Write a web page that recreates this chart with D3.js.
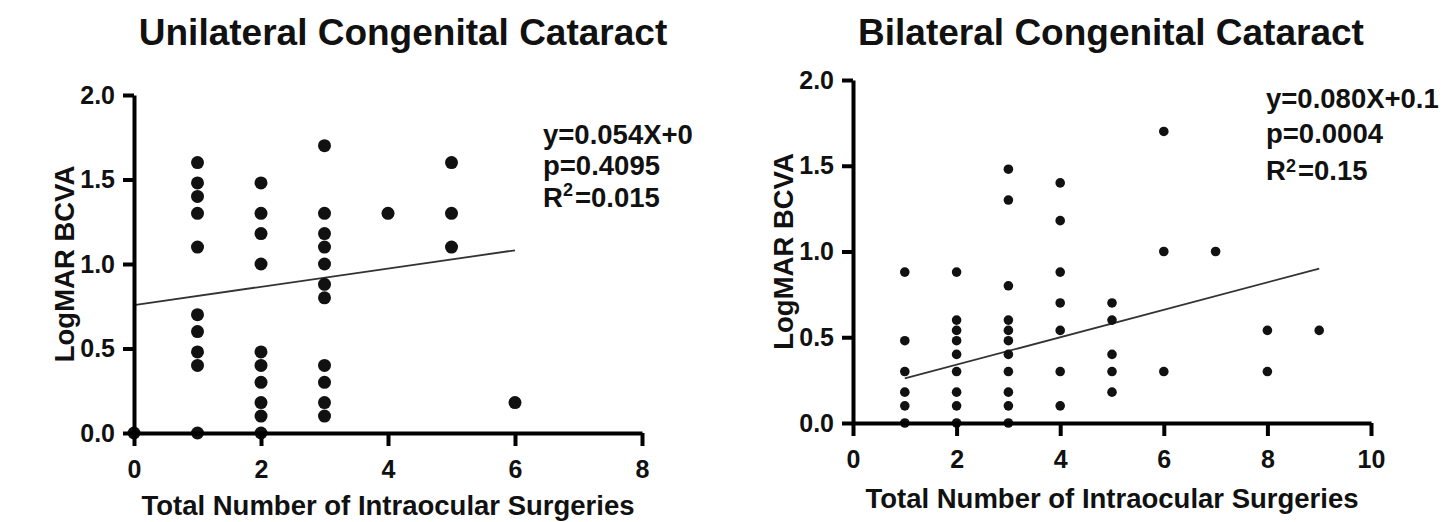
<!DOCTYPE html>
<html>
<head>
<meta charset="utf-8">
<script src="https://cdn.jsdelivr.net/npm/d3@7"></script>
<style>
  body { margin: 0; background: #fff; }
  svg text { font-family: "Liberation Sans", Arial, sans-serif; font-weight: bold; fill: #111; }
</style>
</head>
<body>
<div id="container"></div>
<script>
// Unilateral: surgeries on x, LogMAR BCVA values per x column
var uniSurgeries = [0, 1, 2, 3, 4, 5, 6];
var uniBcva = [
    [0],
    [1.6, 1.48, 1.4, 1.3, 1.1, 0.7, 0.6, 0.48, 0.4, 0],
    [1.48, 1.3, 1.18, 1.0, 0.48, 0.4, 0.3, 0.18, 0.1, 0],
    [1.7, 1.3, 1.18, 1.1, 1.0, 0.88, 0.8, 0.4, 0.3, 0.18, 0.1],
    [1.3],
    [1.6, 1.3, 1.1],
    [0.18]
];
var uniFit = { slope: 0.054, intercept: 0.757, from: 0, to: 6 };
var uniText = ["y=0.054X+0", "p=0.4095", "=0.015"];

// Bilateral
var biSurgeries = [1, 2, 3, 4, 5, 6, 7, 8, 9];
var biBcva = [
    [0.88, 0.48, 0.3, 0.18, 0.1, 0],
    [0.88, 0.6, 0.54, 0.48, 0.4, 0.3, 0.18, 0.1, 0],
    [1.48, 1.3, 0.8, 0.6, 0.54, 0.48, 0.4, 0.3, 0.18, 0.1, 0],
    [1.4, 1.18, 0.88, 0.7, 0.54, 0.3, 0.1],
    [0.7, 0.6, 0.4, 0.3, 0.18],
    [1.7, 1.0, 0.3],
    [1.0],
    [0.54, 0.3],
    [0.54]
];
var biFit = { slope: 0.080, intercept: 0.18, from: 1, to: 9 };
var biText = ["y=0.080X+0.1", "p=0.0004", "=0.15"];

var yTicks = [0, 0.5, 1.0, 1.5, 2.0];

var w = 1446, h = 522;
var svg = d3.select("#container").append("svg")
    .attr("width", w).attr("height", h)
    .style("background", "#fff");

function drawPanel(o) {
    var x = d3.scaleLinear().domain([0, o.xMax]).range([o.left, o.right]);
    var y = d3.scaleLinear().domain([0, 2]).range([o.bottom, o.top]);
    var g = svg.append("g");

    // title
    g.append("text")
        .attr("x", o.titleX).attr("y", 45)
        .attr("text-anchor", "middle")
        .style("font-size", "37px")
        .text(o.title);

    // regression line
    g.append("line")
        .attr("x1", x(o.fit.from)).attr("y1", y(o.fit.intercept + o.fit.slope * o.fit.from))
        .attr("x2", x(o.fit.to)).attr("y2", y(o.fit.intercept + o.fit.slope * o.fit.to))
        .attr("stroke", "#333").attr("stroke-width", 1.8);

    // points
    var pts = [];
    o.xs.forEach(function(xv, i) {
        o.ys[i].forEach(function(yv) { pts.push([xv, yv]); });
    });
    g.selectAll("circle").data(pts).enter().append("circle")
        .attr("cx", function(d) { return x(d[0]); })
        .attr("cy", function(d) { return y(d[1]); })
        .attr("r", o.r)
        .attr("fill", "#111");

    // axes
    var xAxis = g.append("g")
        .attr("transform", "translate(0," + o.bottom + ")")
        .call(d3.axisBottom(x).tickValues(o.xTicks).tickSize(13).tickSizeOuter(0).tickPadding(14).tickFormat(d3.format("d")));
    var yAxis = g.append("g")
        .attr("transform", "translate(" + o.left + ",0)")
        .call(d3.axisLeft(y).tickValues(yTicks).tickSize(11).tickSizeOuter(0).tickPadding(8).tickFormat(d3.format(".1f")));
    [xAxis, yAxis].forEach(function(a) {
        a.selectAll("path, line").attr("stroke", "#000").style("stroke-width", "4px");
        a.selectAll("text").style("font-size", "25px").attr("fill", "#111")
            .style("font-family", "'Liberation Sans', Arial, sans-serif").style("font-weight", "bold");
    });

    // axis titles
    g.append("text")
        .attr("x", (o.left + o.right) / 2).attr("y", o.xTitleY)
        .attr("text-anchor", "middle")
        .style("font-size", "27.5px")
        .text("Total Number of Intraocular Surgeries");
    g.append("text")
        .attr("transform", "translate(" + o.yTitleX + "," + (o.top + o.bottom) / 2 + ") rotate(-90)")
        .attr("text-anchor", "middle")
        .style("font-size", "27.5px")
        .text("LogMAR BCVA");

    // stats text
    var t = g.append("g").style("font-size", "27.5px");
    t.append("text").attr("x", o.statX).attr("y", o.statY[0]).text(o.stats[0]);
    t.append("text").attr("x", o.statX).attr("y", o.statY[1]).text(o.stats[1]);
    var r2 = t.append("text").attr("x", o.statX).attr("y", o.statY[2]);
    r2.append("tspan").text("R");
    r2.append("tspan").attr("dy", o.supDy).style("font-size", "18px").text("2");
    r2.append("tspan").attr("dy", -o.supDy).attr("dx", 2).text(o.stats[2]);
}

drawPanel({
    title: "Unilateral Congenital Cataract", titleX: 403,
    xs: uniSurgeries, ys: uniBcva, fit: uniFit, stats: uniText,
    xMax: 8, xTicks: [0, 2, 4, 6, 8],
    left: 134, right: 642, top: 95, bottom: 433,
    r: 6.5, xTitleY: 515, yTitleX: 74,
    statX: 543, statY: [144, 175, 207], supDy: -11
});

drawPanel({
    title: "Bilateral Congenital Cataract", titleX: 1111,
    xs: biSurgeries, ys: biBcva, fit: biFit, stats: biText,
    xMax: 10, xTicks: [0, 2, 4, 6, 8, 10],
    left: 853, right: 1371, top: 80, bottom: 423,
    r: 4.8, xTitleY: 508, yTitleX: 793,
    statX: 1266, statY: [108, 143, 180], supDy: -8
});
</script>
</body>
</html>
